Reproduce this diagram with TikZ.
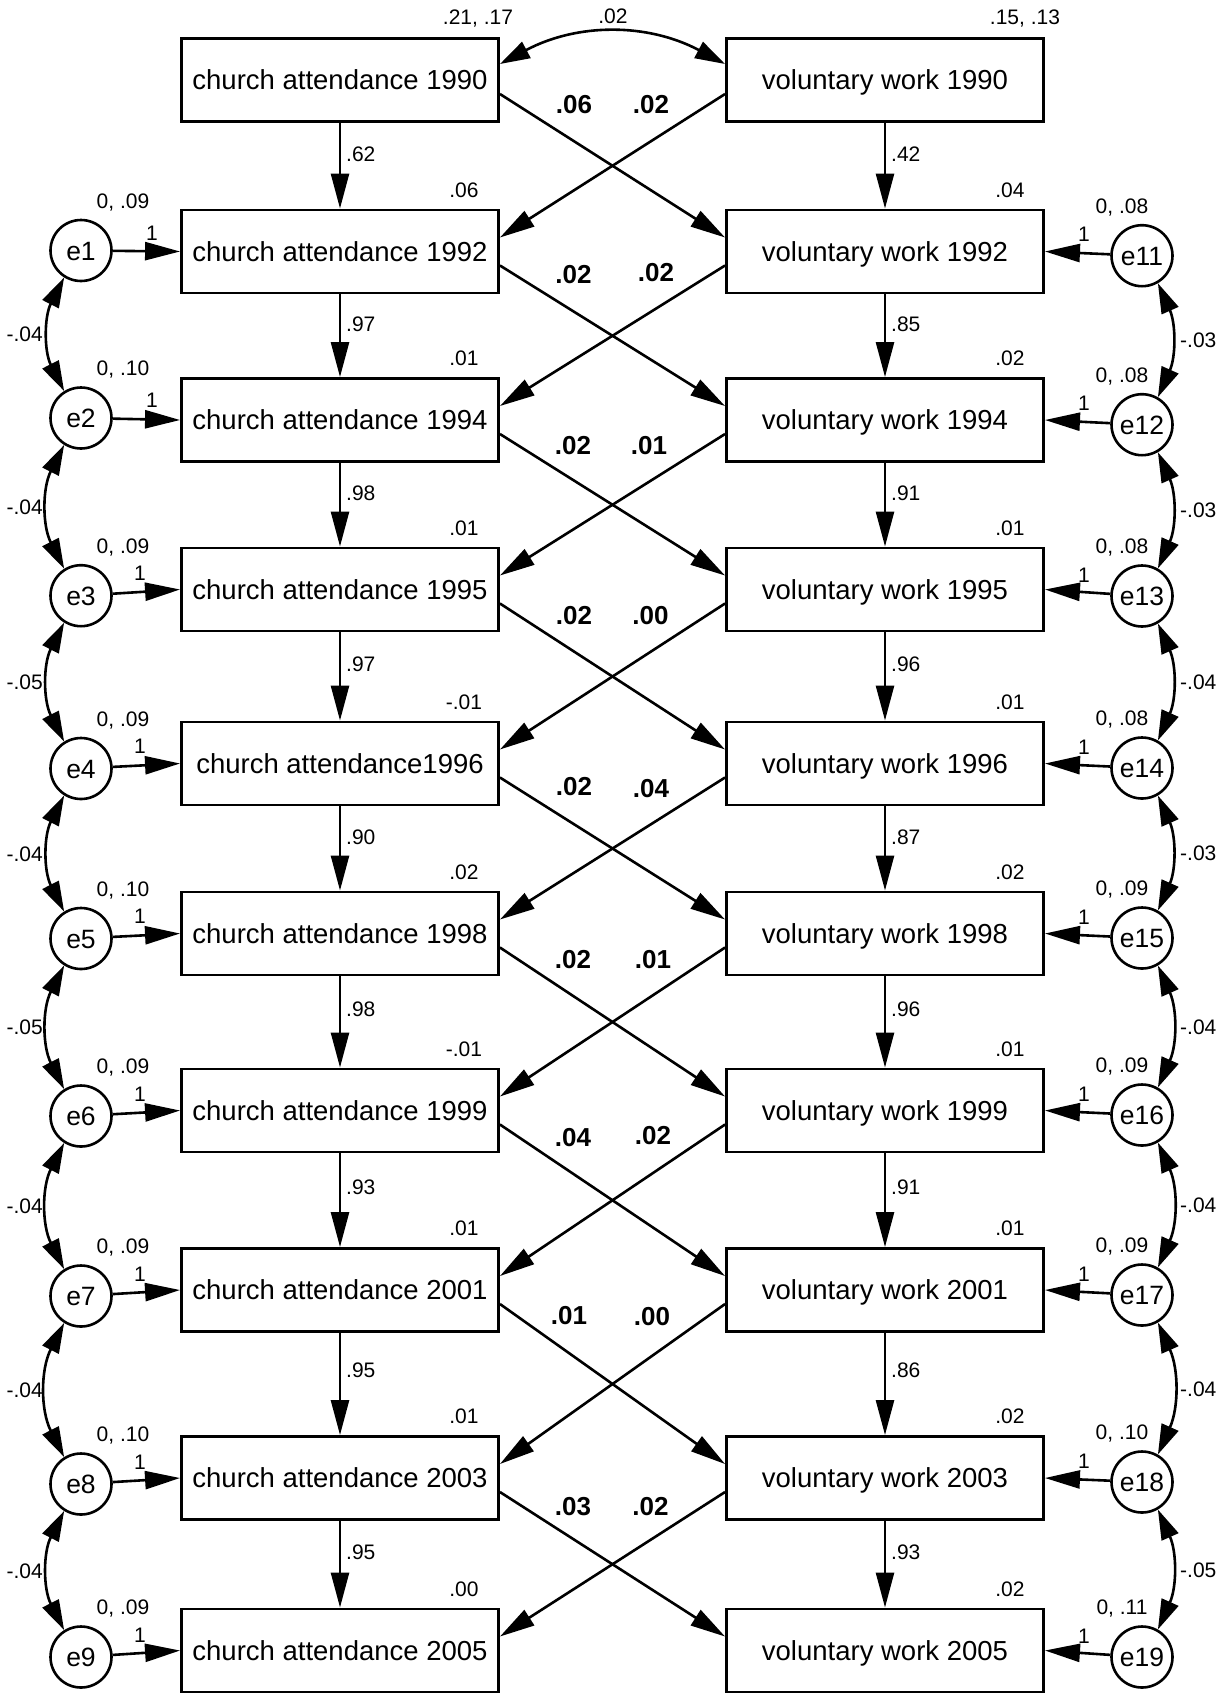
\documentclass[tikz,border=0pt]{standalone}
\usepackage{fontspec}
\setmainfont{Liberation Sans}
\usetikzlibrary{arrows.meta,calc}
\begin{document}
\begin{tikzpicture}[x=1pt,y=-1pt,
  box/.style={draw, line width=2.9pt, minimum width=317pt, minimum height=83pt, inner sep=0pt,
    font=\fontsize{27.5}{30}\selectfont, text height=19.6pt, text depth=0pt},
  err/.style={circle, draw, line width=2.6pt, minimum size=61pt, inner sep=0pt,
    font=\fontsize{26.5}{30}\selectfont, text height=19pt, text depth=0pt},
  arr/.style={line width=2.6pt, -{Triangle[length=35pt,width=18pt]}},
  dbl/.style={line width=2.6pt, {Triangle[length=30pt,width=18pt]}-{Triangle[length=30pt,width=18pt]}},
  lbl/.style={inner sep=0pt, font=\fontsize{21}{24}\selectfont, text height=15pt, text depth=0pt},
  bld/.style={inner sep=0pt, font=\bfseries\fontsize{26}{30}\selectfont, text height=18.6pt, text depth=0pt}]
\useasboundingbox (0,0) rectangle (1231,1695);

% observed variables
\node[box] (c1)  at (340,80)     {church attendance 1990};
\node[box] (c2)  at (340,251.5)  {church attendance 1992};
\node[box] (c3)  at (340,420)    {church attendance 1994};
\node[box] (c4)  at (340,589.5)  {church attendance 1995};
\node[box] (c5)  at (340,763.5)  {church attendance1996};
\node[box] (c6)  at (340,933.5)  {church attendance 1998};
\node[box] (c7)  at (340,1110.5) {church attendance 1999};
\node[box] (c8)  at (340,1290)   {church attendance 2001};
\node[box] (c9)  at (340,1478)   {church attendance 2003};
\node[box] (c10) at (340,1650.5) {church attendance 2005};

\node[box] (v1)  at (885,80)     {voluntary work 1990};
\node[box] (v2)  at (885,251.5)  {voluntary work 1992};
\node[box] (v3)  at (885,420)    {voluntary work 1994};
\node[box] (v4)  at (885,589.5)  {voluntary work 1995};
\node[box] (v5)  at (885,763.5)  {voluntary work 1996};
\node[box] (v6)  at (885,933.5)  {voluntary work 1998};
\node[box] (v7)  at (885,1110.5) {voluntary work 1999};
\node[box] (v8)  at (885,1290)   {voluntary work 2001};
\node[box] (v9)  at (885,1478)   {voluntary work 2003};
\node[box] (v10) at (885,1650.5) {voluntary work 2005};

% error terms
\foreach \i/\y in {1/250.5, 2/418, 3/595.7, 4/768.5, 5/938.5, 6/1116, 7/1296, 8/1484, 9/1657}
  \node[err] (e\i) at (81,\y) {e\i};
\foreach \i/\y in {11/255.7, 12/424.7, 13/596, 14/768, 15/938, 16/1115, 17/1295, 18/1482, 19/1657}
  \node[err] (e\i) at (1142,\y) {e\i};

% paths
\foreach \i in {1,...,9}{
  \pgfmathtruncatemacro{\j}{\i+1}
  \pgfmathtruncatemacro{\k}{\i+10}
  \draw[arr] (c\i) -- (c\j);
  \draw[arr] (v\i) -- (v\j);
  \draw[arr] ($(c\i.east)+(0,14)$) -- ($(v\j.west)+(0,-14)$);
  \draw[arr] ($(v\i.west)+(0,14)$) -- ($(c\j.east)+(0,-14)$);
  \draw[arr] (e\i) -- (c\j.west);
  \draw[arr] (e\k) -- (v\j.east);
}

% covariances
\draw[dbl] ($(c1.east)+(0,-16)$) to[bend left=28] ($(v1.west)+(0,-16)$);
\node[lbl] (cov0) at (613,16) {.02};
\foreach \i/\t in {1/-.04, 2/-.04, 3/-.05, 4/-.04, 5/-.05, 6/-.04, 7/-.04, 8/-.04}{
  \pgfmathtruncatemacro{\j}{\i+1}
  \draw[dbl] (e\i.238) to[bend right=27] (e\j.122);
  \node[lbl,anchor=east] (kl\i) at ($(e\i)!0.5!(e\j)+(-38,0)$) {\t};
}
\foreach \i/\t in {11/-.03, 12/-.03, 13/-.04, 14/-.03, 15/-.04, 16/-.04, 17/-.04, 18/-.05}{
  \pgfmathtruncatemacro{\j}{\i+1}
  \draw[dbl] (e\i.300) to[bend left=24] (e\j.60);
  \node[lbl,anchor=west] (kr\i) at ($(e\i)!0.5!(e\j)+(38,0)$) {\t};
}

% stability path labels
\foreach \i/\a/\b in {1/.62/.42, 2/.97/.85, 3/.98/.91, 4/.97/.96, 5/.90/.87, 6/.98/.96, 7/.93/.91, 8/.95/.86, 9/.95/.93}{
  \pgfmathtruncatemacro{\j}{\i+1}
  \node[lbl,anchor=west] (pc\i) at ($(c\i.south)!0.36!(c\j.north)+(6,0)$) {\a};
  \node[lbl,anchor=west] (pv\i) at ($(v\i.south)!0.36!(v\j.north)+(6,0)$) {\b};
}

% squared multiple correlations / means
\node[lbl] (rc1) at ($(c1.north east)+(-22,-20)$) {.21, .17};
\node[lbl] (rv1) at ($(v1.north east)+(-20,-20)$) {.15, .13};
\foreach \i/\a/\b in {2/.06/.04, 3/.01/.02, 4/.01/.01, 5/-.01/.01, 6/.02/.02, 7/-.01/.01, 8/.01/.01, 9/.01/.02, 10/.00/.02}{
  \node[lbl] (rc\i) at ($(c\i.north east)+(-36,-19)$) {\a};
  \node[lbl] (rv\i) at ($(v\i.north east)+(-35,-19)$) {\b};
}

% error variances and fixed weights
\foreach \i/\a in {1/{0, .09}, 2/{0, .10}, 3/{0, .09}, 4/{0, .09}, 5/{0, .10}, 6/{0, .09}, 7/{0, .09}, 8/{0, .10}, 9/{0, .09}}
  \node[lbl] (ve\i) at ($(e\i)+(42,-50)$) {\a};
\foreach \i/\a in {11/{0, .08}, 12/{0, .08}, 13/{0, .08}, 14/{0, .08}, 15/{0, .09}, 16/{0, .09}, 17/{0, .09}, 18/{0, .10}, 19/{0, .11}}
  \node[lbl] (ve\i) at ($(e\i)+(-20,-50)$) {\a};
\foreach \i in {1,2}
  \node[lbl] (w\i) at ($(e\i)+(71,-18)$) {1};
\foreach \i in {3,...,9}
  \node[lbl] (w\i) at ($(e\i)+(59,-22.5)$) {1};
\foreach \i in {11,...,19}
  \node[lbl] (w\i) at ($(e\i)+(-58,-21.5)$) {1};

% cross-lagged coefficients
\node[bld] (x1a) at (574,104)    {.06};  \node[bld] (x1b) at (651,104)    {.02};
\node[bld] (x2a) at (573.5,274)  {.02};  \node[bld] (x2b) at (656,272)    {.02};
\node[bld] (x3a) at (573,445)    {.02};  \node[bld] (x3b) at (649,445)    {.01};
\node[bld] (x4a) at (574,615)    {.02};  \node[bld] (x4b) at (650.5,615)  {.00};
\node[bld] (x5a) at (574,786.5)  {.02};  \node[bld] (x5b) at (651,788)    {.04};
\node[bld] (x6a) at (573,959)    {.02};  \node[bld] (x6b) at (653,959)    {.01};
\node[bld] (x7a) at (573,1137)   {.04};  \node[bld] (x7b) at (653,1135)   {.02};
\node[bld] (x8a) at (569,1315.5) {.01};  \node[bld] (x8b) at (652,1316.5) {.00};
\node[bld] (x9a) at (573,1506)   {.03};  \node[bld] (x9b) at (650.5,1506.5) {.02};
\end{tikzpicture}
\end{document}
